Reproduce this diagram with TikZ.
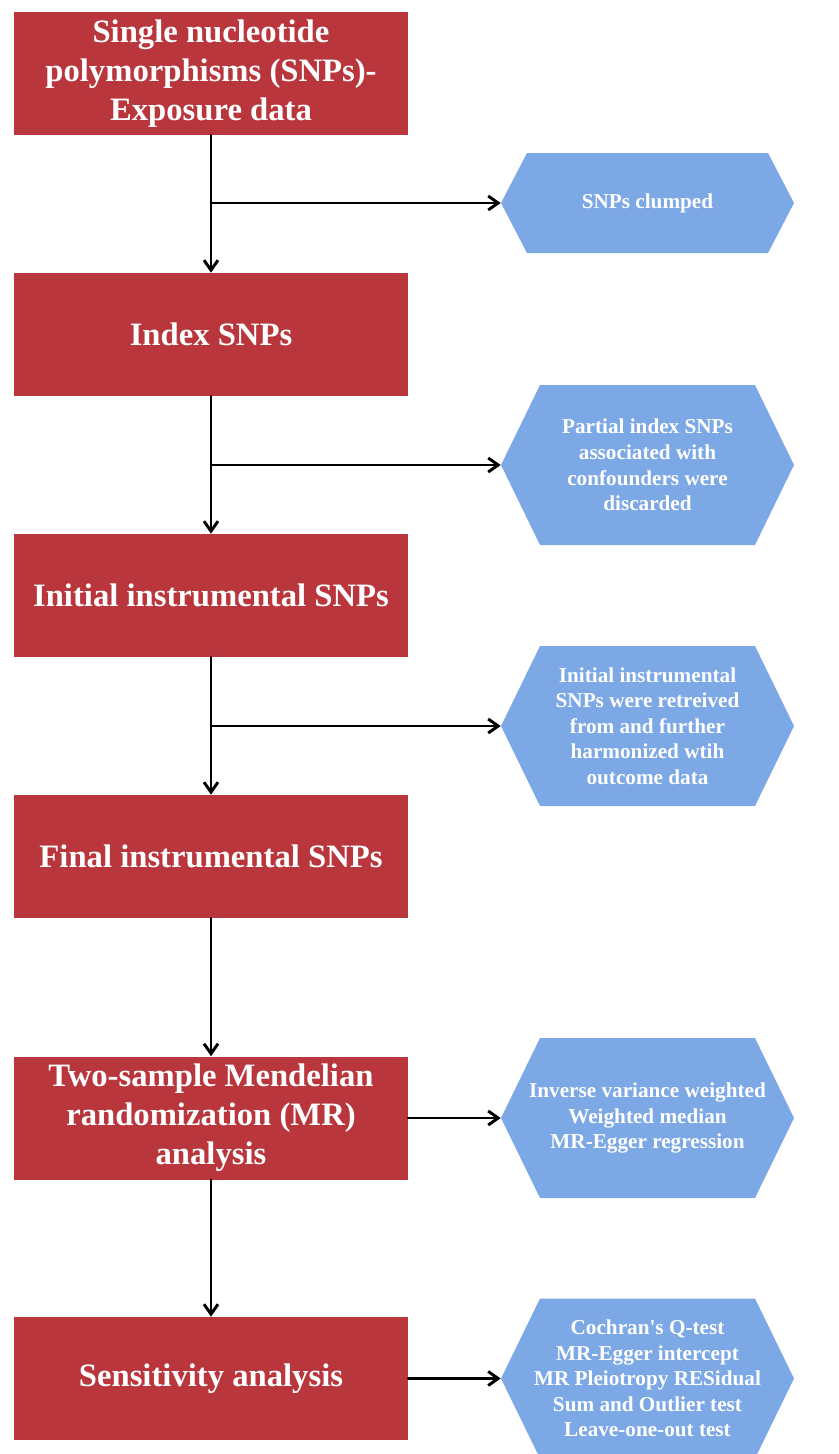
\documentclass[tikz,border=0pt]{standalone}
\usepackage{fontspec}
\setmainfont{Liberation Serif}
\usetikzlibrary{arrows.meta}
\definecolor{boxred}{RGB}{185,54,61}
\definecolor{hexblue}{RGB}{124,168,229}
\begin{document}
\begin{tikzpicture}[x=0.75pt,y=-0.75pt,line cap=round,line join=round,
  >={Straight Barb[length=7.5pt,width=10.5pt]},
  redbox/.style={fill=boxred,text=white,minimum width=295.5pt,minimum height=92.25pt,
    inner sep=0pt,align=center,font=\fontsize{24.5}{29.25}\selectfont\bfseries},
  hexbox/.style={minimum width=219.75pt,minimum height=120pt,inner sep=0pt,text=white,
    align=center,font=\fontsize{15.9}{19.2}\selectfont\bfseries,
    path picture={\fill[hexblue] (path picture bounding box.west)
      -- ([xshift=#1]path picture bounding box.north west)
      -- ([xshift=-#1]path picture bounding box.north east)
      -- (path picture bounding box.east)
      -- ([xshift=-#1]path picture bounding box.south east)
      -- ([xshift=#1]path picture bounding box.south west) -- cycle;}},
  hexbox/.default=29.25pt,
  link/.style={line width=2.2pt,->}]
  \useasboundingbox (0,0) rectangle (839,1454);
  \node[redbox] (exposure) at (211,73.5) {Single nucleotide\\polymorphisms (SNPs)-\\Exposure data};
  \node[redbox] (index) at (211,334.5) {Index SNPs};
  \node[redbox] (initial) at (211,595.5) {Initial instrumental SNPs};
  \node[redbox] (final) at (211,856.5) {Final instrumental SNPs};
  \node[redbox] (twosample) at (211,1118) {Two-sample Mendelian\\randomization (MR)\\analysis};
  \node[redbox] (sensitivity) at (211,1378.5) {Sensitivity analysis};
  \node[hexbox=19.5pt,minimum height=75pt] (clumped) at (647.5,203) {SNPs clumped};
  \node[hexbox] (discarded) at (647.5,465) {Partial index SNPs\\associated with\\confounders were\\discarded};
  \node[hexbox] (harmonized) at (647.5,726) {Initial instrumental\\SNPs were retreived\\from and further\\harmonized wtih\\outcome data};
  \node[hexbox] (methods) at (647.5,1118) {Inverse variance weighted\\Weighted median\\MR-Egger regression};
  \node[hexbox] (tests) at (647.5,1378.5) {Cochran\textquotesingle s Q-test\\MR-Egger intercept\\MR Pleiotropy RESidual\\Sum and Outlier test\\Leave-one-out test};
  \draw[link] (exposure.south) -- (index.north);
  \draw[link] (index.south) -- (initial.north);
  \draw[link] (initial.south) -- (final.north);
  \draw[link] (final.south) -- (twosample.north);
  \draw[link] (twosample.south) -- (sensitivity.north);
  \draw[link] (exposure.south |- clumped.west) -- (clumped.west);
  \draw[link] (index.south |- discarded.west) -- (discarded.west);
  \draw[link] (initial.south |- harmonized.west) -- (harmonized.west);
  \draw[link] (twosample.east) -- (methods.west);
  \draw[link] (sensitivity.east) -- (tests.west);
\end{tikzpicture}
\end{document}
